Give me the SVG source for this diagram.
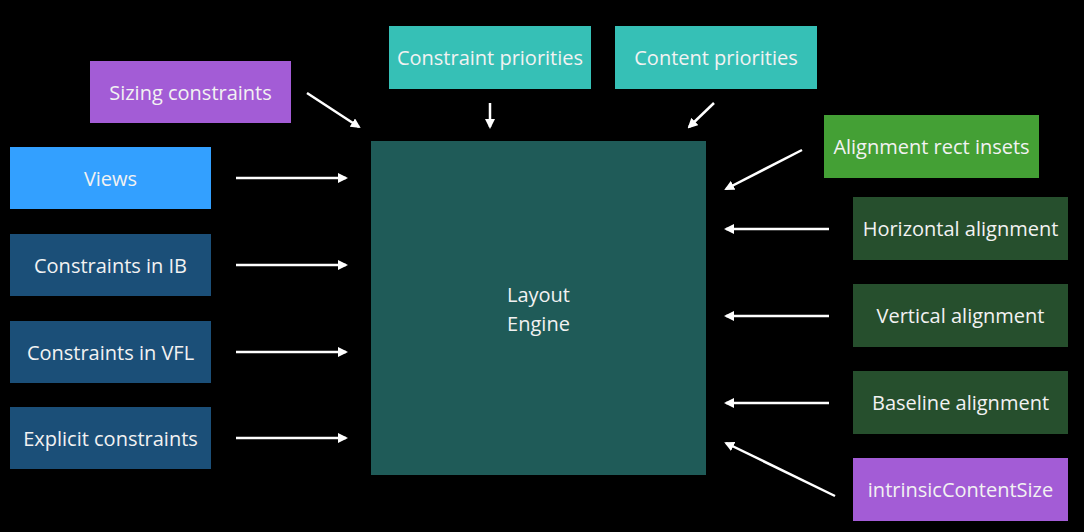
<svg xmlns="http://www.w3.org/2000/svg" width="1084" height="532" viewBox="0 0 1084 532">
<style>
text{font-family:"Open Sans","Liberation Sans",sans-serif;font-size:20px;fill:#f2f2f2;text-anchor:middle;dominant-baseline:central}
.c{stroke:#ffffff;stroke-width:2.5;fill:none;marker-end:url(#ah)}
</style>
<defs>
<marker id="ah" markerWidth="10" markerHeight="10" refX="8" refY="5" orient="auto" markerUnits="userSpaceOnUse">
<path d="M0,0 L10,5 L0,10 Z" fill="#ffffff"/>
</marker>
</defs>
<rect width="1084" height="532" fill="#000"/>
<g id="engine"><rect x="371" y="141" width="335" height="334" fill="#1f5b58"/><text x="538.500" y="294">Layout</text><text x="538.500" y="323">Engine</text></g>
<g id="sizing"><rect x="90" y="61" width="201" height="62" fill="#a35cd6"/><text x="190.500" y="92">Sizing constraints</text></g>
<g id="views"><rect x="10" y="147" width="201" height="62" fill="#33a0ff"/><text x="110.500" y="178">Views</text></g>
<g id="ib"><rect x="10" y="234" width="201" height="62" fill="#1b4f78"/><text x="110.500" y="265">Constraints in IB</text></g>
<g id="vfl"><rect x="10" y="321" width="201" height="62" fill="#1b4f78"/><text x="110.500" y="352">Constraints in VFL</text></g>
<g id="explicit"><rect x="10" y="407" width="201" height="62" fill="#1b4f78"/><text x="110.500" y="438">Explicit constraints</text></g>
<g id="cprio"><rect x="389" y="26" width="202" height="63" fill="#36c0b6"/><text x="490" y="57">Constraint priorities</text></g>
<g id="contprio"><rect x="615" y="26" width="202" height="63" fill="#36c0b6"/><text x="716" y="57">Content priorities</text></g>
<g id="insets"><rect x="824" y="115" width="215" height="63" fill="#44a035"/><text x="931.500" y="146">Alignment rect insets</text></g>
<g id="halign"><rect x="853" y="197" width="215" height="63" fill="#264f2d"/><text x="960.500" y="228">Horizontal alignment</text></g>
<g id="valign"><rect x="853" y="284" width="215" height="63" fill="#264f2d"/><text x="960.500" y="315">Vertical alignment</text></g>
<g id="baseline"><rect x="853" y="371" width="215" height="63" fill="#264f2d"/><text x="960.500" y="402">Baseline alignment</text></g>
<g id="intrinsic"><rect x="853" y="458" width="215" height="63" fill="#a35cd6"/><text x="960.500" y="489">intrinsicContentSize</text></g>
<g id="connectors">
<line class="c" x1="307" y1="93" x2="359" y2="127"/>
<line class="c" x1="236" y1="178" x2="346" y2="178"/>
<line class="c" x1="236" y1="265" x2="346" y2="265"/>
<line class="c" x1="236" y1="352" x2="346" y2="352"/>
<line class="c" x1="236" y1="438" x2="346" y2="438"/>
<line class="c" x1="490" y1="103" x2="490" y2="127"/>
<line class="c" x1="714" y1="103" x2="689" y2="127"/>
<line class="c" x1="802" y1="150" x2="726" y2="189"/>
<line class="c" x1="829" y1="229" x2="726" y2="229"/>
<line class="c" x1="829" y1="316" x2="726" y2="316"/>
<line class="c" x1="829" y1="403" x2="726" y2="403"/>
<line class="c" x1="835" y1="496" x2="726" y2="443"/>
</g>
</svg>
